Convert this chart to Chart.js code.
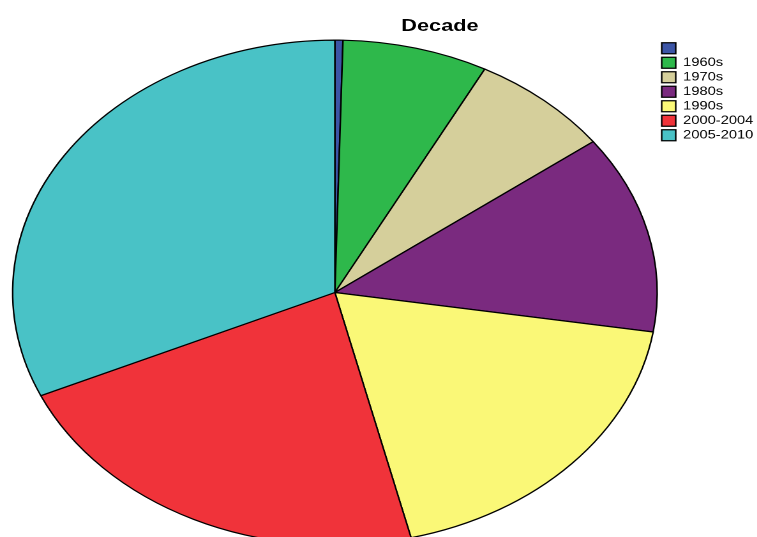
<!DOCTYPE html>
<html>
<head>
    <meta charset="utf-8">
    <script src="https://cdn.jsdelivr.net/npm/chart.js"></script>
    <title>Decade</title>
    <style type="text/css">
        body {
            margin: 0;
            background: #ffffff;
        }

        /* the original picture is stretched sideways, so the whole chart is too */
        #frame {
            position: relative;
            width: 757px;
            height: 537px;
            overflow: hidden;
        }

        #wrap {
            position: absolute;
            left: 0;
            top: 0;
            width: 593px;
            height: 560px;
            transform: scaleX(1.2767);
            transform-origin: 0 0;
        }

        #title {
            position: absolute;
            left: 244.6px;
            width: 200px;
            top: 16px;
            line-height: 20px;
            text-align: center;
            font-family: "Liberation Sans", Arial, sans-serif;
            font-weight: bold;
            font-size: 17px;
            color: #000;
        }
    </style>
</head>
<body>
    <div id="frame">
        <div id="wrap">
            <div id="title">Decade</div>
            <canvas id="myChart"></canvas>
        </div>
    </div>

    <script>
        // Percentages
        var decades = ['', '1960s', '1970s', '1980s', '1990s', '2000-2004', '2005-2010'];
        var shares = [0.4, 7.3, 7.1, 12.7, 18.7, 22.1, 31.7];
        var colors = ['#3c55a6', '#2eb84b', '#d5cf9b', '#7a2a7f', '#faf877', '#f0333a', '#49c2c6'];

        var ctx = document.getElementById('myChart').getContext('2d');
        var myChart = new Chart(ctx, {
            type: 'pie',
            data: {
                labels: decades,
                datasets: [{
                    data: shares,
                    backgroundColor: colors,
                    borderColor: '#000000',
                    borderWidth: 1.2
                }]
            },
            options: {
                responsive: true,
                maintainAspectRatio: false,
                devicePixelRatio: 2,
                animation: false,
                layout: {
                    padding: {left: 9.3, top: 39.5, right: 0, bottom: 14.5}
                },
                plugins: {
                    tooltip: {enabled: false},
                    title: {display: false},
                    legend: {
                        position: 'right',
                        align: 'start',
                        maxWidth: 77.7,
                        labels: {
                            boxWidth: 11,
                            boxHeight: 11,
                            padding: 3,
                            color: '#000000',
                            font: {family: '"Liberation Sans", Arial, sans-serif', size: 11.5}
                        }
                    }
                }
            }
        });
    </script>
</body>
</html>
